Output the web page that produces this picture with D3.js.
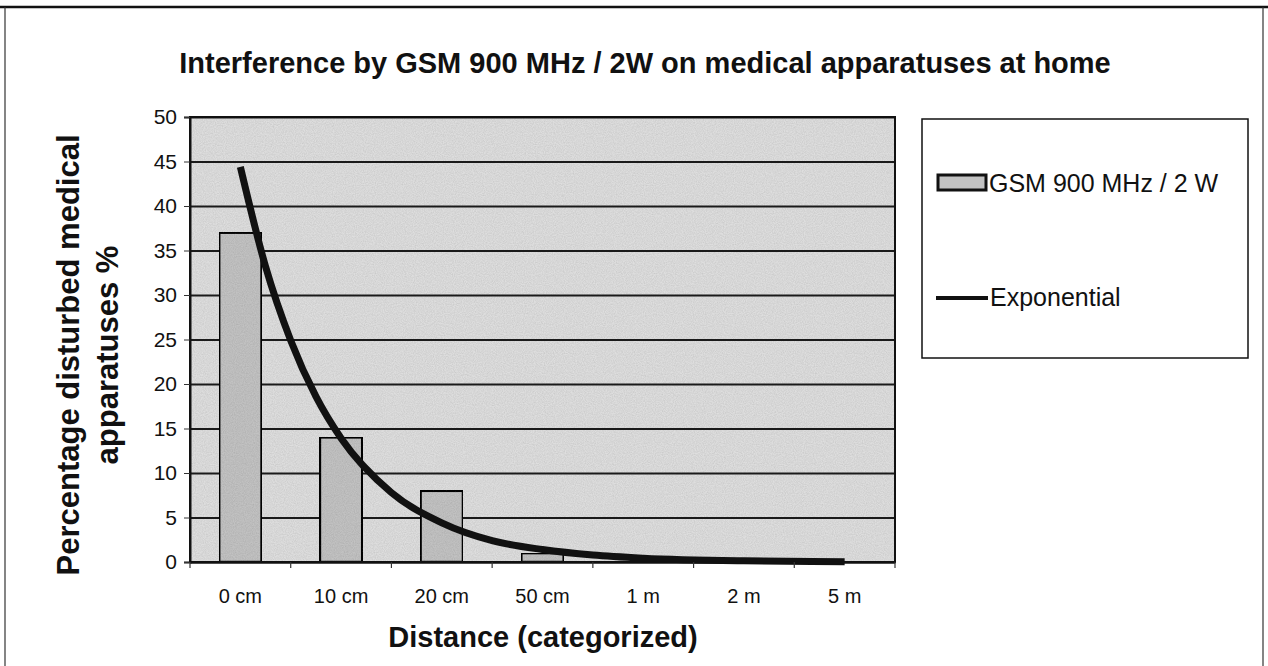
<!DOCTYPE html>
<html>
<head>
<meta charset="utf-8">
<script src="https://cdn.jsdelivr.net/npm/d3@7"></script>
<style>
  body { margin: 0; background: #fff; }
  svg { display: block; font-family: "Liberation Sans", Arial, sans-serif; }
</style>
</head>
<body>
<svg width="1268" height="666"></svg>
<script>
const W = 1268, H = 666;

// data
const categories = ["0 cm", "10 cm", "20 cm", "50 cm", "1 m", "2 m", "5 m"];
const values = [37, 14, 8, 1, 0, 0, 0];
const yTicks = [0, 5, 10, 15, 20, 25, 30, 35, 40, 45, 50];
// exponential trendline, position in category units (0 = first category)
const trendPos = [0, 0.25, 0.5, 0.75, 1, 1.5, 2, 2.5, 3, 3.5, 4, 5, 6];
const trendVals = [44.4, 33.2, 24.9, 18.6, 13.9, 7.8, 4.4, 2.4, 1.4, 0.78, 0.43, 0.13, 0.04];

const svg = d3.select('svg');
const L = 190, R = 895, T = 117, B = 562;
const FONT = '"Liberation Sans", Arial, sans-serif';

// outer frame of the scan
svg.append('line').attr('x1', 0).attr('x2', W).attr('y1', 7).attr('y2', 7)
  .attr('stroke', '#111').attr('stroke-width', 2.5);
svg.append('line').attr('x1', 5).attr('x2', 5).attr('y1', 7).attr('y2', H)
  .attr('stroke', '#333').attr('stroke-width', 1.2);
svg.append('line').attr('x1', 1263).attr('x2', 1263).attr('y1', 7).attr('y2', H)
  .attr('stroke', '#333').attr('stroke-width', 1.2);

// grainy scan texture
const defs = svg.append('defs');
const f = defs.append('filter').attr('id', 'grain').attr('x', 0).attr('y', 0).attr('width', 1).attr('height', 1);
f.append('feTurbulence').attr('type', 'fractalNoise').attr('baseFrequency', 0.9).attr('numOctaves', 2).attr('seed', 3).attr('result', 'n');
f.append('feColorMatrix').attr('in', 'n').attr('type', 'matrix')
  .attr('values', '0 0 0 0 0  0 0 0 0 0  0 0 0 0 0  0 0 0 0.3 -0.08').attr('result', 'a');
f.append('feComposite').attr('in', 'a').attr('in2', 'SourceGraphic').attr('operator', 'in').attr('result', 'c');
f.append('feMerge').call(m => { m.append('feMergeNode').attr('in', 'SourceGraphic'); m.append('feMergeNode').attr('in', 'c'); });

const x = d3.scaleBand().domain(categories).range([L, R]).paddingInner(0.58).paddingOuter(0.29);
const step = x.step();
const xt = d3.scaleLinear().domain([-0.5, categories.length - 0.5]).range([L, R]);
const y = d3.scaleLinear().domain([0, 50]).range([B, T]);

svg.append('rect').attr('x', L).attr('y', T).attr('width', R - L).attr('height', B - T)
  .attr('fill', '#dedede').attr('filter', 'url(#grain)');

// gridlines
svg.append('g').attr('transform', `translate(${L},0)`)
  .call(d3.axisLeft(y).tickValues(yTicks).tickSize(-(R - L)).tickFormat(''))
  .call(g => g.select('.domain').remove())
  .call(g => g.selectAll('line').attr('stroke', '#1a1a1a').attr('stroke-width', 2));

// bars
svg.append('g').selectAll('rect').data(values).enter()
  .append('rect')
  .attr('x', (d, i) => x(categories[i]))
  .attr('y', d => y(d))
  .attr('width', x.bandwidth())
  .attr('height', d => y(0) - y(d))
  .attr('fill', '#c2c2c2')
  .attr('stroke', '#111')
  .attr('stroke-width', 2.5)
  .attr('filter', 'url(#grain)');

// trendline
const line = d3.line()
  .x((d, i) => xt(trendPos[i]))
  .y(d => y(d))
  .curve(d3.curveMonotoneX);
svg.append('path').datum(trendVals).attr('d', line)
  .attr('fill', 'none').attr('stroke', '#111').attr('stroke-width', 7);

// plot frame
svg.append('rect').attr('x', L).attr('y', T).attr('width', R - L).attr('height', B - T)
  .attr('fill', 'none').attr('stroke', '#111').attr('stroke-width', 2);

// y axis
svg.append('g').attr('transform', `translate(${L},0)`)
  .call(d3.axisLeft(y).tickValues(yTicks).tickSize(6).tickPadding(7))
  .call(g => g.select('.domain').attr('stroke', '#111').attr('stroke-width', 2))
  .call(g => g.selectAll('.tick line').attr('stroke', '#333'))
  .call(g => g.selectAll('text').attr('font-size', 21).attr('fill', '#111')
    .attr('font-family', FONT));

// x axis (labels centred in categories, ticks between them)
const xAxis = svg.append('g').attr('transform', `translate(0,${B})`)
  .call(d3.axisBottom(x).tickSize(0).tickPadding(27))
  .call(g => g.select('.domain').attr('stroke', '#111').attr('stroke-width', 2))
  .call(g => g.selectAll('text').attr('font-size', 20).attr('fill', '#111')
    .attr('font-family', FONT));
xAxis.selectAll('.sep').data(d3.range(categories.length + 1)).enter()
  .append('line').attr('class', 'sep')
  .attr('x1', i => L + i * step).attr('x2', i => L + i * step)
  .attr('y1', 0).attr('y2', 6).attr('stroke', '#333').attr('stroke-width', 1.2);

// titles
svg.append('text').attr('x', 645).attr('y', 73).attr('text-anchor', 'middle')
  .attr('font-size', 29).attr('font-weight', 'bold').attr('fill', '#111')
  .text('Interference by GSM 900 MHz / 2W on medical apparatuses at home');

svg.append('text').attr('x', 543).attr('y', 647).attr('text-anchor', 'middle')
  .attr('font-size', 29).attr('font-weight', 'bold').attr('fill', '#111')
  .text('Distance (categorized)');

const yt = svg.append('text').attr('transform', 'translate(0,355) rotate(-90)')
  .attr('text-anchor', 'middle').attr('font-size', 31).attr('font-weight', 'bold').attr('fill', '#111');
yt.append('tspan').attr('x', 0).attr('y', 79).text('Percentage disturbed medical');
yt.append('tspan').attr('x', 0).attr('y', 118).text('apparatuses %');

// legend
const lg = svg.append('g');
lg.append('rect').attr('x', 922).attr('y', 119).attr('width', 326).attr('height', 239)
  .attr('fill', '#fff').attr('stroke', '#111').attr('stroke-width', 1.5);
lg.append('rect').attr('x', 938).attr('y', 175).attr('width', 48).attr('height', 15)
  .attr('fill', '#c2c2c2').attr('stroke', '#111').attr('stroke-width', 3);
lg.append('text').attr('x', 989).attr('y', 192).attr('font-size', 25).attr('fill', '#111')
  .text('GSM 900 MHz / 2 W');
lg.append('line').attr('x1', 936).attr('x2', 988).attr('y1', 298).attr('y2', 298)
  .attr('stroke', '#111').attr('stroke-width', 4);
lg.append('text').attr('x', 990).attr('y', 306).attr('font-size', 25).attr('fill', '#111')
  .text('Exponential');
</script>
</body>
</html>
